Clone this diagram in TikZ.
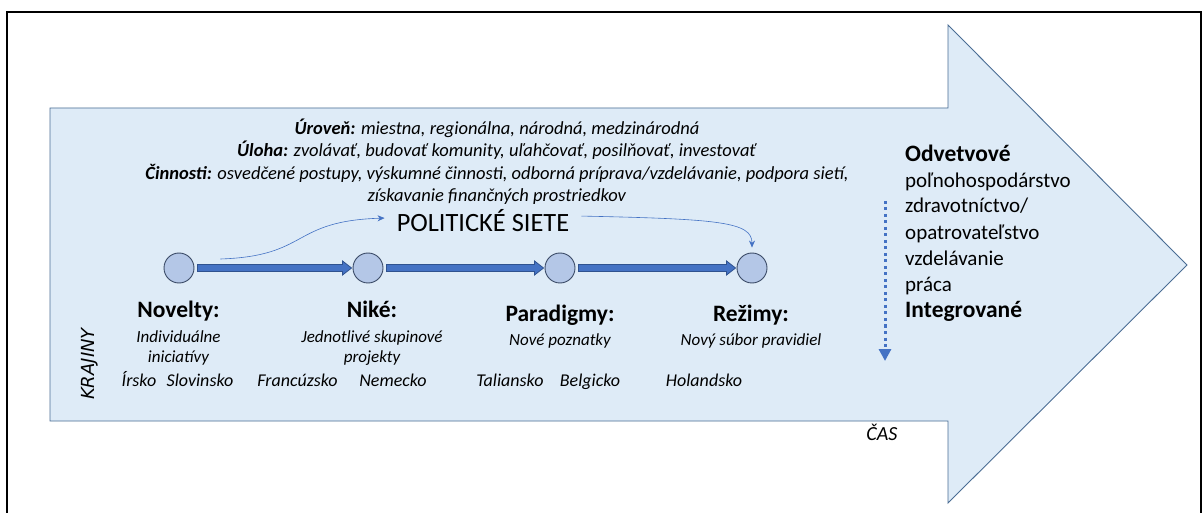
\documentclass[tikz,border=0pt]{standalone}
\usepackage{fontspec}
\setmainfont{Carlito}
\newfontfamily\kfont{DejaVu Sans}
\usetikzlibrary{arrows.meta,calc}
\definecolor{bigfill}{HTML}{DEEBF7}
\definecolor{bigdraw}{HTML}{4A6D94}
\definecolor{circfill}{HTML}{B4C7E7}
\definecolor{circdraw}{HTML}{3A4A66}
\definecolor{accent}{HTML}{4472C4}
\definecolor{accentdark}{HTML}{2F528F}
\tikzset{
  stage/.style={circle,draw=circdraw,fill=circfill,line width=0.9pt,minimum size=30pt,inner sep=0pt},
  toptext/.style={anchor=base,font=\fontsize{18.5}{22}\selectfont,inner sep=0pt},
  head/.style={anchor=base,font=\fontsize{23.5}{28}\selectfont\bfseries,inner sep=0pt},
  sub/.style={anchor=base,font=\fontsize{17}{20}\selectfont\itshape,inner sep=0pt},
  country/.style={anchor=base,font=\fontsize{18}{21}\selectfont\itshape,inner sep=0pt},
  rlist/.style={anchor=base west,font=\fontsize{21}{25}\selectfont,inner sep=0pt},
  rbold/.style={anchor=base west,font=\fontsize{23.5}{28}\selectfont\bfseries,inner sep=0pt},
  thin/.style={draw=accent,line width=0.6pt,-{Stealth[length=7pt,width=6pt]}},
  fat/.style={fill=accent,draw=accentdark,line width=0.8pt,line join=miter},
}
\newcommand{\fatarr}[2]{%
  \path let \p1=(#1.east), \p2=(#2.west) in
    [fat] (\x1+3pt,\y1+3.5pt) -- (\x2-10pt,\y1+3.5pt) -- (\x2-10pt,\y1+7pt) --
    (\x2-1pt,\y1) -- (\x2-10pt,\y1-7pt) -- (\x2-10pt,\y1-3.5pt) -- (\x1+3pt,\y1-3.5pt) -- cycle;}
\begin{document}
\begin{tikzpicture}[x=1pt,y=-1pt]
\useasboundingbox (0,0) rectangle (1203,513);
\fill[white] (0,0) rectangle (1203,513);
% frame
\draw[black,line width=1.6pt] (7,513) -- (7,12) -- (1201,12) -- (1201,513);
% big arrow
\draw[fill=bigfill,draw=bigdraw,line width=0.9pt] (50,108) -- (948,108) -- (948,25) -- (1187,265) -- (948,503) -- (948,421) -- (50,421) -- cycle;
% top text
\node[toptext] (t1) at (497,135) {\textbf{\textit{Úroveň:}} \textit{miestna, regionálna, národná, medzinárodná}};
\node[toptext] (t2) at (497,157) {\textbf{\textit{Úloha:}} \textit{zvolávať, budovať komunity, uľahčovať, posilňovať, investovať}};
\node[toptext] (t3) at (497,180) {\textbf{\textit{Činnosti:}} \textit{osvedčené postupy, výskumné činnosti, odborná príprava/vzdelávanie, podpora sietí,}};
\node[toptext] (t4) at (497,202) {\textit{získavanie finančných prostriedkov}};
\node[anchor=base,font=\fontsize{26.4}{31}\selectfont,inner sep=0pt] (ps) at (483,232) {POLITICKÉ SIETE};
% stages
\node[stage] (c1) at (179,268) {};
\node[stage] (c2) at (368,268) {};
\node[stage] (c3) at (560,268) {};
\node[stage] (c4) at (752,268) {};
\fatarr{c1}{c2}
\fatarr{c2}{c3}
\fatarr{c3}{c4}
% curved connectors
\coordinate (cs) at ($(c1.east)+(26,-9)$);
\draw[thin] (cs) .. controls (310,256) and (290,221) .. ($(ps.west)+(-12,-3)$);
\draw[thin] ($(ps.east)+(12,-5)$) .. controls (720,219) and (752,222) .. ($(c4.north)+(0,-5)$);
% labels
\node[head] (h1) at (178.5,318) {Novelty:};
\node[head] (h2) at (372,318) {Niké:};
\node[head] (h3) at (560,322) {Paradigmy:};
\node[head] (h4) at (751,322) {Režimy:};
\node[sub] (s1a) at (178.5,342) {Individuálne};
\node[sub] (s1b) at (178.5,362) {iniciatívy};
\node[sub] (s2a) at (372,342) {Jednotlivé skupinové};
\node[sub] (s2b) at (372,362) {projekty};
\node[sub] (s3) at (560,345) {Nové poznatky};
\node[sub] (s4) at (751,345) {Nový súbor pravidiel};
\node[country] (k1) at (139,386) {Írsko};
\node[country] (k2) at (200,386) {Slovinsko};
\node[country] (k3) at (297.5,386) {Francúzsko};
\node[country] (k4) at (393,386) {Nemecko};
\node[country] (k5) at (510,386) {Taliansko};
\node[country] (k6) at (590,386) {Belgicko};
\node[country] (k7) at (704,386) {Holandsko};
\node[anchor=base,rotate=90,inner sep=0pt,font=\kfont\itshape\fontsize{18}{21}\selectfont] (kr) at (94,364) {KRAJINY};
\node[anchor=base,font=\fontsize{20}{24}\selectfont\itshape,inner sep=0pt] (cas) at (882,440) {ČAS};
% right list
\node[rbold] (r1) at (905,162) {Odvetvové};
\node[rlist] (r2) at (905,188) {poľnohospodárstvo};
\node[rlist] (r3) at (905,213) {zdravotníctvo/};
\node[rlist] (r4) at (905,240) {opatrovateľstvo};
\node[rlist] (r5) at (905,266) {vzdelávanie};
\node[rlist] (r6) at (905,292) {práca};
\node[rbold] (r7) at (905,318) {Integrované};
\coordinate (ds) at (885,201);
\coordinate (de) at (885,361);
\draw[accent,line width=3pt,dash pattern=on 3pt off 3.5pt,-{Triangle[length=12pt,width=12pt]}] (ds) -- (de);
\end{tikzpicture}
\end{document}
